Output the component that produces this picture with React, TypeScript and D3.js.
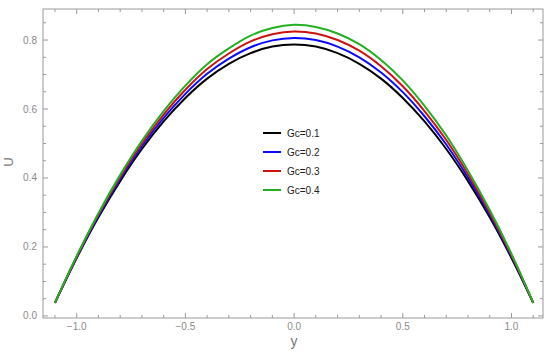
import React, { useEffect, useRef } from 'react';
import * as d3 from 'd3';

// y positions where the curves were read
const yValues = [-1.1, -1.0, -0.9, -0.8, -0.7, -0.6, -0.5, -0.4, -0.3, -0.2, -0.1, 0, 0.1, 0.2, 0.3, 0.4, 0.5, 0.6, 0.7, 0.8, 0.9, 1.0, 1.1];

const gc1 = [0.038, 0.168, 0.286, 0.391, 0.484, 0.564, 0.632, 0.688, 0.731, 0.762, 0.781, 0.787, 0.781, 0.762, 0.731, 0.688, 0.632, 0.564, 0.484, 0.391, 0.286, 0.168, 0.038];
const gc2 = [0.038, 0.170, 0.290, 0.397, 0.492, 0.574, 0.644, 0.702, 0.746, 0.779, 0.799, 0.806, 0.800, 0.781, 0.750, 0.706, 0.649, 0.579, 0.497, 0.401, 0.293, 0.172, 0.038];
const gc3 = [0.038, 0.172, 0.294, 0.403, 0.500, 0.584, 0.656, 0.716, 0.761, 0.796, 0.817, 0.825, 0.819, 0.800, 0.769, 0.724, 0.666, 0.594, 0.510, 0.411, 0.300, 0.176, 0.038];
const gc4 = [0.038, 0.174, 0.298, 0.409, 0.508, 0.594, 0.668, 0.730, 0.776, 0.813, 0.835, 0.844, 0.838, 0.819, 0.788, 0.742, 0.683, 0.609, 0.523, 0.421, 0.307, 0.180, 0.038];

const seriesNames = ['Gc=0.1', 'Gc=0.2', 'Gc=0.3', 'Gc=0.4'];
const seriesColors = ['#000000', '#0a0aff', '#cc1111', '#22b022'];

const xMajorTicks = [-1.0, -0.5, 0.0, 0.5, 1.0];
const xMinorTicks = [-1.1, -0.9, -0.8, -0.7, -0.6, -0.4, -0.3, -0.2, -0.1, 0.1, 0.2, 0.3, 0.4, 0.6, 0.7, 0.8, 0.9, 1.1];
const yMajorTicks = [0.0, 0.2, 0.4, 0.6, 0.8];
const yMinorTicks = [0.05, 0.1, 0.15, 0.25, 0.3, 0.35, 0.45, 0.5, 0.55, 0.65, 0.7, 0.75, 0.85];

const width = 550;
const height = 356;

const App = () => {
  const svgRef = useRef<SVGSVGElement>(null);

  useEffect(() => {
    if (!svgRef.current) return;
    const svg = d3.select(svgRef.current);
    svg.selectAll('*').remove();

    const x = d3.scaleLinear().domain([-1.155, 1.145]).range([43, 543]);
    const y = d3.scaleLinear().domain([-0.006, 0.89]).range([318, 9]);
    const [x0, x1] = x.range();
    const [y0, y1] = y.range();

    const frameColor = '#9a9a9a';
    const labelColor = '#8a8a8a';
    const font = 'Liberation Sans, Arial, sans-serif';

    // Frame
    svg.append('rect')
      .attr('x', x0)
      .attr('y', y1)
      .attr('width', x1 - x0)
      .attr('height', y0 - y1)
      .attr('fill', 'none')
      .attr('stroke', frameColor)
      .attr('stroke-width', 1);

    // Ticks on all four sides, pointing inward
    const tickG = svg.append('g').attr('stroke', frameColor).attr('stroke-width', 1);
    const addXTicks = (vals: number[], len: number) => {
      vals.forEach(v => {
        tickG.append('line').attr('x1', x(v)).attr('x2', x(v)).attr('y1', y0).attr('y2', y0 - len);
        tickG.append('line').attr('x1', x(v)).attr('x2', x(v)).attr('y1', y1).attr('y2', y1 + len);
      });
    };
    const addYTicks = (vals: number[], len: number) => {
      vals.forEach(v => {
        tickG.append('line').attr('x1', x0).attr('x2', x0 + len).attr('y1', y(v)).attr('y2', y(v));
        tickG.append('line').attr('x1', x1).attr('x2', x1 - len).attr('y1', y(v)).attr('y2', y(v));
      });
    };
    addXTicks(xMajorTicks, 5);
    addXTicks(xMinorTicks, 3);
    addYTicks(yMajorTicks, 5);
    addYTicks(yMinorTicks, 3);

    // Tick labels
    svg.append('g')
      .selectAll('text')
      .data(xMajorTicks)
      .join('text')
      .attr('x', d => x(d))
      .attr('y', 330)
      .attr('text-anchor', 'middle')
      .attr('font-family', font)
      .attr('font-size', 10)
      .attr('fill', labelColor)
      .text(d => d3.format('.1f')(d).replace('-', '\u2212'));

    svg.append('g')
      .selectAll('text')
      .data(yMajorTicks)
      .join('text')
      .attr('x', 37)
      .attr('y', d => y(d) + 3.5)
      .attr('text-anchor', 'end')
      .attr('font-family', font)
      .attr('font-size', 10)
      .attr('fill', labelColor)
      .text(d => d3.format('.1f')(d));

    // Axis labels
    svg.append('text')
      .attr('x', 294)
      .attr('y', 346)
      .attr('text-anchor', 'middle')
      .attr('font-family', font)
      .attr('font-size', 14)
      .attr('fill', '#777')
      .text('y');

    svg.append('text')
      .attr('transform', 'translate(13, 162) rotate(-90)')
      .attr('text-anchor', 'middle')
      .attr('font-family', font)
      .attr('font-size', 13)
      .attr('fill', '#777')
      .text('U');

    // Curves
    const series = [gc1, gc2, gc3, gc4];
    const line = d3.line<number>()
      .x((d, i) => x(yValues[i]))
      .y(d => y(d))
      .curve(d3.curveCatmullRom.alpha(0.5));

    svg.append('g')
      .selectAll('path')
      .data(series)
      .join('path')
      .attr('d', d => line(d))
      .attr('fill', 'none')
      .attr('stroke', (d, i) => seriesColors[i])
      .attr('stroke-width', 2);

    // Legend
    const legend = svg.append('g')
      .selectAll('g')
      .data(seriesNames)
      .join('g')
      .attr('transform', (d, i) => `translate(263, ${133 + i * 19})`);

    legend.append('line')
      .attr('x1', 0)
      .attr('x2', 18)
      .attr('y1', 0)
      .attr('y2', 0)
      .attr('stroke', (d, i) => seriesColors[i])
      .attr('stroke-width', 2);

    legend.append('text')
      .attr('x', 24)
      .attr('y', 3.5)
      .attr('font-family', font)
      .attr('font-size', 10)
      .attr('fill', '#222')
      .text(d => d);
  }, []);

  return (
    <svg
      ref={svgRef}
      width={width}
      height={height}
      style={{ position: 'absolute', left: 0, top: 0, background: '#fff' }}
    />
  );
};

export default App;
